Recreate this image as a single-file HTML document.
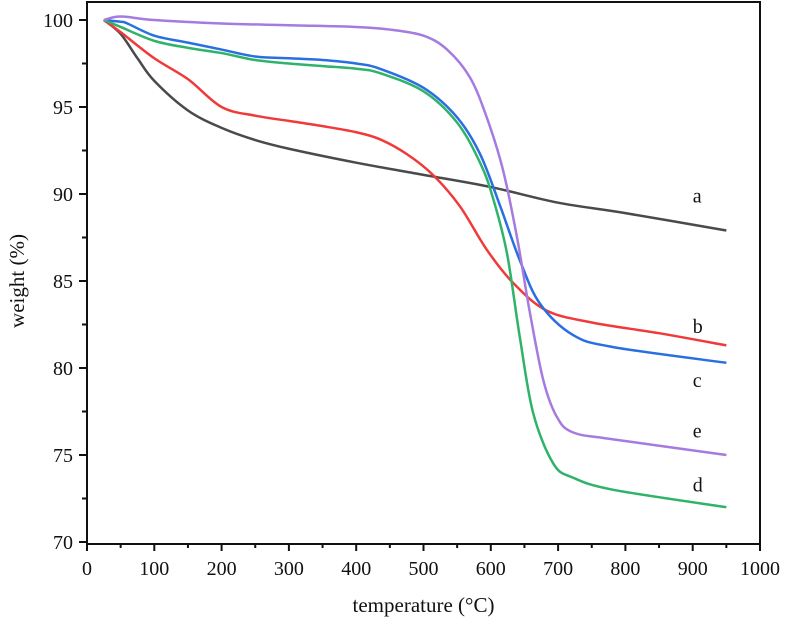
<!DOCTYPE html>
<html><head><meta charset="utf-8"><style>
body{margin:0;background:#fff;}
svg text{font-family:"Liberation Serif",serif;fill:#111;}
</style></head><body>
<svg id="chart" width="787" height="620" viewBox="0 0 787 620" xmlns="http://www.w3.org/2000/svg">
<g id="axes"></g><g id="series"></g>
</svg>
<script>
const xTicks=[0,100,200,300,400,500,600,700,800,900,1000];
const yTicks=[70,75,80,85,90,95,100];
const seriesNames=["a","b","c","d","e"];
const seriesColors=["#4a4a4a","#f03a3a","#2a6fe0","#2fb36a","#a57be0"];
const tA=[25,50,75,100,150,200,250,300,400,500,600,700,800,950];
const wA=[100,99.2,97.8,96.5,94.8,93.8,93.1,92.6,91.8,91.1,90.4,89.5,88.9,87.9];
const tB=[25,50,100,150,200,250,300,350,400,435,475,514,554,594,633,683,752,850,950];
const wB=[100,99.3,97.8,96.6,95.0,94.5,94.2,93.9,93.55,93.15,92.3,91.1,89.3,86.8,84.9,83.3,82.6,82.0,81.3];
const tC=[25,50,60,100,150,200,250,300,350,400,435,500,550,584,614,643,673,722,782,950];
const wC=[100,99.9,99.8,99.1,98.7,98.3,97.9,97.8,97.7,97.5,97.2,96.1,94.4,92.3,89.3,86.2,83.7,81.9,81.2,80.3];
const tD=[25,50,100,150,200,250,300,350,400,435,500,550,584,603,624,643,663,693,722,782,950];
const wD=[100,99.6,98.8,98.4,98.1,97.7,97.5,97.35,97.2,96.95,95.9,94.1,91.8,89.8,86.6,81.8,77.4,74.5,73.7,73.0,72.0];
const tE=[25,50,100,200,300,400,450,500,535,569,594,618,639,658,678,698,722,782,950];
const wE=[100,100.2,100,99.8,99.7,99.6,99.45,99.1,98.3,96.7,94.4,91.4,87.5,83.2,79.3,77.2,76.3,75.9,75.0];
const labelT=[900,900,900,900,900];
const labelW=[89.5,82.0,78.9,72.9,76.0];

const X0=87,X1=760,Y0=20,Y100=100,Y70=70,YB=542;
const sx=v=>X0+(X1-X0)*v/1000;
const sy=v=>Y0+(Y100-v)*(YB-Y0)/(Y100-Y70);
const NS="http://www.w3.org/2000/svg";
const axes=document.getElementById('axes'),ser=document.getElementById('series');
function mk(tag,at,parent){const e=document.createElementNS(NS,tag);for(const k in at)e.setAttribute(k,at[k]);parent.appendChild(e);return e;}
const frame=mk('rect',{x:X0,y:2,width:X1-X0,height:YB,fill:'none',stroke:'#111','stroke-width':2},axes);


xTicks.forEach((v,i)=>{
  const l=mk('line',{x1:sx(v),x2:sx(v),y1:YB+2,y2:YB+9,stroke:'#111','stroke-width':2},axes);
  
  
  if(i<xTicks.length-1){const m=mk('line',{x1:sx(v+50),x2:sx(v+50),y1:YB+2,y2:YB+6,stroke:'#111','stroke-width':2},axes);
  
  }
  const t=mk('text',{x:sx(v),y:YB+33,'text-anchor':'middle','font-size':20},axes);t.textContent=v;
  
  
});
yTicks.forEach((v,i)=>{
  const l=mk('line',{x1:X0-8,x2:X0,y1:sy(v),y2:sy(v),stroke:'#111','stroke-width':2},axes);
  
  
  if(i<yTicks.length-1){const m=mk('line',{x1:X0-5,x2:X0,y1:sy(v+2.5),y2:sy(v+2.5),stroke:'#111','stroke-width':2},axes);
  
  }
  const t=mk('text',{x:X0-14,y:sy(v)+7,'text-anchor':'end','font-size':20},axes);t.textContent=v;
  
  
});
const xt=mk('text',{x:(X0+X1)/2,y:612,'text-anchor':'middle','font-size':21},axes);xt.textContent='temperature (°C)';


const yt=mk('text',{x:0,y:0,'text-anchor':'middle','font-size':21,transform:`translate(24,${(Y0+YB)/2}) rotate(-90)`},axes);yt.textContent='weight (%)';


function pathFor(ts,ws){
  const p=ts.map((t,i)=>[sx(t),sy(ws[i])]);let d=`M${p[0][0]},${p[0][1]}`;
  for(let i=0;i<p.length-1;i++){const a=p[i-1]||p[i],b=p[i],c=p[i+1],e=p[i+2]||c;
    d+=` C${b[0]+(c[0]-a[0])/6},${b[1]+(c[1]-a[1])/6} ${c[0]-(e[0]-b[0])/6},${c[1]-(e[1]-b[1])/6} ${c[0]},${c[1]}`;}
  return d;}
const T=[tA,tB,tC,tD,tE],W=[wA,wB,wC,wD,wE];
T.forEach((ts,i)=>{
  const p=mk('path',{d:pathFor(ts,W[i]),fill:'none',stroke:seriesColors[i],'stroke-width':2.5},ser);
  
  
  const t=mk('text',{x:sx(labelT[i]),y:sy(labelW[i]),'font-size':20},ser);t.textContent=seriesNames[i];
  
  
});
</script>
</body></html>
